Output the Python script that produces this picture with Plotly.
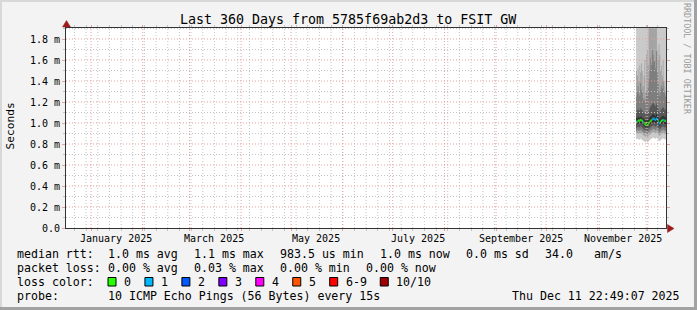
import numpy as np
import pandas as pd
import plotly.graph_objects as go

# ---------------- data ----------------
title_text = "Last 360 Days from 5785f69ab2d3 to FSIT GW"
range_start = "2024-12-16 22:49:07"
range_end = "2025-12-11 22:49:07"

data_start = "2025-11-24 00:00"
step = "12h"

median_ms = [1.010, 1.015, 1.020, 1.025, 1.020, 1.030, 1.025, 1.020, 1.010, 1.000, 0.990, 0.985,
             1.000, 0.980, 0.985, 1.000, 1.010, 1.020, 1.025, 1.035, 1.040, 1.040, 1.035, 1.030,
             1.040, 1.035, 1.020, 1.000, 0.995, 1.010, 1.020, 1.025, 1.030, 1.025, 1.020, 1.020]
loss_count = [0, 1, 0, 0, 0, 0, 0, 0, 1, 0, 0, 0, 0, 0, 0, 0, 0, 0, 0, 1, 1, 1, 1, 1,
              1, 1, 0, 1, 1, 0, 0, 0, 1, 1, 0, 0]

ping1_ms = [0.845, 0.850, 0.848, 0.842, 0.840, 0.852, 0.846, 0.838, 0.830, 0.826, 0.822, 0.818,
            0.828, 0.815, 0.820, 0.832, 0.838, 0.845, 0.850, 0.858, 0.862, 0.858, 0.852, 0.850,
            0.860, 0.852, 0.842, 0.830, 0.826, 0.836, 0.846, 0.850, 0.856, 0.848, 0.842, 0.846]
ping2_ms = [0.895, 0.900, 0.902, 0.898, 0.895, 0.905, 0.900, 0.892, 0.885, 0.880, 0.875, 0.870,
            0.880, 0.865, 0.872, 0.885, 0.890, 0.898, 0.902, 0.910, 0.915, 0.912, 0.905, 0.902,
            0.912, 0.905, 0.895, 0.882, 0.878, 0.888, 0.898, 0.902, 0.908, 0.900, 0.895, 0.898]
ping3_ms = [0.925, 0.930, 0.932, 0.928, 0.926, 0.935, 0.930, 0.922, 0.915, 0.910, 0.905, 0.900,
            0.910, 0.895, 0.902, 0.915, 0.920, 0.928, 0.932, 0.940, 0.945, 0.942, 0.935, 0.932,
            0.942, 0.935, 0.925, 0.912, 0.908, 0.918, 0.928, 0.932, 0.938, 0.930, 0.925, 0.928]
ping4_ms = [0.955, 0.960, 0.965, 0.960, 0.958, 0.968, 0.962, 0.955, 0.948, 0.940, 0.935, 0.930,
            0.940, 0.925, 0.932, 0.945, 0.950, 0.960, 0.965, 0.972, 0.978, 0.975, 0.968, 0.965,
            0.975, 0.968, 0.958, 0.945, 0.940, 0.950, 0.960, 0.965, 0.970, 0.962, 0.958, 0.960]
ping5_ms = [0.985, 0.990, 0.995, 0.995, 0.990, 1.000, 0.995, 0.990, 0.980, 0.970, 0.965, 0.960,
            0.970, 0.955, 0.960, 0.975, 0.980, 0.990, 0.995, 1.005, 1.010, 1.005, 1.000, 1.000,
            1.005, 1.000, 0.990, 0.975, 0.970, 0.980, 0.990, 0.995, 1.000, 0.995, 0.990, 0.990]
ping6_ms = [1.045, 1.050, 1.060, 1.055, 1.050, 1.065, 1.060, 1.050, 1.045, 1.035, 1.030, 1.025,
            1.040, 1.025, 1.030, 1.045, 1.055, 1.065, 1.070, 1.080, 1.085, 1.080, 1.075, 1.070,
            1.085, 1.075, 1.060, 1.040, 1.035, 1.050, 1.060, 1.065, 1.070, 1.065, 1.055, 1.060]
ping7_ms = [1.110, 1.120, 1.135, 1.125, 1.115, 1.140, 1.130, 1.120, 1.105, 1.095, 1.090, 1.080,
            1.100, 1.085, 1.095, 1.120, 1.140, 1.160, 1.170, 1.185, 1.190, 1.180, 1.170, 1.160,
            1.185, 1.165, 1.140, 1.110, 1.100, 1.120, 1.135, 1.140, 1.150, 1.140, 1.125, 1.130]
ping8_ms = [1.250, 1.300, 1.350, 1.280, 1.260, 1.380, 1.320, 1.290, 1.230, 1.210, 1.240, 1.190,
            1.300, 1.260, 1.330, 1.420, 1.500, 1.620, 1.550, 1.700, 1.650, 1.580, 1.600, 1.520,
            1.680, 1.480, 1.380, 1.300, 1.260, 1.320, 1.360, 1.330, 1.400, 1.300, 1.280, 1.250]
ping9_ms = [1.50, 1.45, 1.52, 1.40, 1.55, 1.48, 1.57, 1.50, 1.35, 1.45, 1.60, 1.30,
            1.65, 1.70, 1.55, 1.95, 2.10, 2.30, 2.00, 2.40, 2.20, 2.50, 2.10, 2.30,
            2.05, 1.70, 1.60, 1.75, 1.65, 1.50, 1.55, 1.45, 1.60, 1.35, 1.40, 1.30]
ping10_ms = [2.6, 2.8, 3.0, 2.5, 2.7, 3.1, 2.9, 2.6, 2.4, 2.5, 2.8, 2.3,
             3.0, 3.2, 2.9, 3.5, 3.8, 4.0, 3.6, 4.2, 3.9, 4.5, 3.7, 4.0,
             3.6, 3.0, 2.8, 3.1, 2.9, 2.6, 2.7, 2.5, 2.8, 2.4, 2.5, 2.3]

y_tick_ms = [0.0, 0.2, 0.4, 0.6, 0.8, 1.0, 1.2, 1.4, 1.6, 1.8]
y_tick_text = ["0.0", "0.2 m", "0.4 m", "0.6 m", "0.8 m", "1.0 m", "1.2 m", "1.4 m", "1.6 m", "1.8 m"]
y_minor_ms = [0.1, 0.3, 0.5, 0.7, 0.9, 1.1, 1.3, 1.5, 1.7, 1.9]
y_max_ms = 1.905

month_label_dates = ["2025-01-16", "2025-03-16", "2025-05-16", "2025-07-16", "2025-09-16", "2025-11-16"]
month_labels = ["January 2025", "March 2025", "May 2025", "July 2025", "September 2025", "November 2025"]

loss_labels = ["0", "1", "2", "3", "4", "5", "6-9", "10/10"]
loss_colors = ["#26ff00", "#00b8ff", "#0059ff", "#7e00ff", "#ff00ff", "#ff5500", "#ff0000", "#a10000"]

legend_rows = [
    [(16, "median rtt:"), (107, "1.0 ms avg"), (193, "1.1 ms max"), (278.5, "983.5 us min"),
     (379, "1.0 ms now"), (465, "0.0 ms sd"), (543.5, "34.0"), (593, "am/s")],
    [(16, "packet loss:"), (107, "0.00 % avg"), (193, "0.03 % max"), (278.5, "0.00 % min"),
     (365, "0.00 % now")],
    [(16, "loss color:")],
    [(16, "probe:"), (107, "10 ICMP Echo Pings (56 Bytes) every 15s")],
]
timestamp_text = "Thu Dec 11 22:49:07 2025"

# ---------------- layout geometry ----------------
W, H = 697, 310
ML, MT, PW, PH = 66, 28, 600, 200
MR, MB = W - ML - PW, H - MT - PH
FONT = "DejaVu Sans Mono"


def px_x(px):
    return (px - ML) / PW


def px_y(py):
    return (MT + PH - py) / PH


fig = go.Figure()

n = len(median_ms)
edges = pd.date_range(data_start, periods=n + 1, freq=step)


def stepped(vals):
    v = [x / 1000.0 for x in vals]
    return v + [v[-1]]


pings = [ping1_ms, ping2_ms, ping3_ms, ping4_ms, ping5_ms,
         ping6_ms, ping7_ms, ping8_ms, ping9_ms, ping10_ms]
half = 5
for i in range(1, half + 1):
    g = int(190 / half * (half - i)) + 50
    col = "#%02x%02x%02x" % (g, g, g)
    lo = pings[i - 1]
    hi = pings[10 - i]
    fig.add_trace(go.Scatter(x=edges, y=stepped(lo), mode="lines",
                             line=dict(width=0, shape="hv"), showlegend=False, hoverinfo="skip"))
    fig.add_trace(go.Scatter(x=edges, y=stepped(hi), mode="lines",
                             line=dict(width=0, shape="hv"), fill="tonexty", fillcolor=col,
                             showlegend=False, hoverinfo="skip"))


def loss_class(c):
    if c <= 5:
        return c
    if c < 10:
        return 6
    return 7


for k, col in enumerate(loss_colors):
    xs, ys = [], []
    for i in range(n):
        if loss_class(loss_count[i]) == k:
            xs += [edges[i], edges[i + 1], None]
            ys += [median_ms[i] / 1000.0, median_ms[i] / 1000.0, None]
    if xs:
        fig.add_trace(go.Scatter(x=xs, y=ys, mode="lines", line=dict(width=2.4, color=col),
                                 showlegend=False, hoverinfo="skip"))

# ---------------- grid (drawn above data like rrdtool) ----------------
GRID = "#c4c4c4"
MGRID = "#e8a0a0"
DASH = "1px,2px"
shapes = []
weeks = pd.date_range("2024-12-22", range_end, freq="7D")
months = pd.date_range("2025-01-01", range_end, freq="MS")
for v in y_minor_ms:
    shapes.append(dict(type="line", xref="paper", yref="y", x0=0, x1=1, y0=v / 1000, y1=v / 1000,
                       line=dict(color=GRID, width=1, dash=DASH), layer="above"))
for d in weeks:
    shapes.append(dict(type="line", xref="x", yref="paper", x0=d, x1=d, y0=0, y1=1,
                       line=dict(color=GRID, width=1, dash=DASH), layer="above"))
for v in y_tick_ms[1:]:
    shapes.append(dict(type="line", xref="paper", yref="y", x0=0, x1=1, y0=v / 1000, y1=v / 1000,
                       line=dict(color=MGRID, width=1, dash=DASH), layer="above"))
for d in months:
    shapes.append(dict(type="line", xref="x", yref="paper", x0=d, x1=d, y0=0, y1=1,
                       line=dict(color=MGRID, width=1, dash=DASH), layer="above"))

# frame
shapes.append(dict(type="rect", xref="paper", yref="paper", x0=px_x(0), x1=px_x(W), y0=px_y(0), y1=px_y(2),
                   fillcolor="#d8d8d8", line=dict(width=0), layer="above"))
shapes.append(dict(type="rect", xref="paper", yref="paper", x0=px_x(0), x1=px_x(2), y0=px_y(0), y1=px_y(H),
                   fillcolor="#d8d8d8", line=dict(width=0), layer="above"))
shapes.append(dict(type="rect", xref="paper", yref="paper", x0=px_x(W - 3), x1=px_x(W), y0=px_y(0), y1=px_y(H),
                   fillcolor="#a2a2a2", line=dict(width=0), layer="above"))
shapes.append(dict(type="rect", xref="paper", yref="paper", x0=px_x(0), x1=px_x(W), y0=px_y(H - 3), y1=px_y(H),
                   fillcolor="#a2a2a2", line=dict(width=0), layer="above"))

# arrows
ARROW = "#9b1c1c"
shapes.append(dict(type="line", xref="paper", yref="paper", x0=0, x1=0, y0=1, y1=px_y(25),
                   line=dict(color="#333333", width=1), layer="above"))
shapes.append(dict(type="path", xref="paper", yref="paper",
                   path="M %f,%f L %f,%f L %f,%f Z" % (px_x(62.5), px_y(27), px_x(66.5), px_y(20.5),
                                                      px_x(70.5), px_y(27)),
                   fillcolor=ARROW, line=dict(color=ARROW, width=0.5), layer="above"))
shapes.append(dict(type="path", xref="paper", yref="paper",
                   path="M %f,%f L %f,%f L %f,%f Z" % (px_x(667.5), px_y(224.5), px_x(674), px_y(228.5),
                                                      px_x(667.5), px_y(232.5)),
                   fillcolor=ARROW, line=dict(color=ARROW, width=0.5), layer="above"))

# legend boxes
box_x0 = 108
box_dx = 36.95
for k, col in enumerate(loss_colors):
    bx = box_x0 + k * box_dx + (13.6 if k == 7 else 0)
    shapes.append(dict(type="rect", xref="paper", yref="paper", x0=px_x(bx), x1=px_x(bx + 8),
                       y0=px_y(277.5), y1=px_y(286), fillcolor=col,
                       line=dict(color="#000000", width=1), layer="above"))

# ---------------- annotations ----------------
ann = []
ann.append(dict(text=title_text, xref="paper", yref="paper", x=px_x(348), y=px_y(19.5),
                 xanchor="center", yanchor="middle", showarrow=False,
                 font=dict(family=FONT, size=13.3, color="#000000")))
ann.append(dict(text="Seconds", xref="paper", yref="paper", x=px_x(10), y=px_y(126.5), textangle=-90,
                xanchor="center", yanchor="middle", showarrow=False,
                font=dict(family=FONT, size=11.2, color="#000000")))
ann.append(dict(text="RRDTOOL / TOBI OETIKER", xref="paper", yref="paper", x=px_x(687), y=px_y(59),
                textangle=90, xanchor="center", yanchor="middle", showarrow=False,
                font=dict(family=FONT, size=8.4, color="#999999")))
for d, t in zip(month_label_dates, month_labels):
    ann.append(dict(text=t, xref="x", yref="paper", x=d, y=px_y(238), xanchor="center",
                    yanchor="middle", showarrow=False, font=dict(family=FONT, size=10, color="#000000")))

row_y = [254.3, 268.3, 282.2, 296.2]
for r, items in enumerate(legend_rows):
    for (xpx, txt) in items:
        ann.append(dict(text=txt, xref="paper", yref="paper", x=px_x(xpx - 1), y=px_y(row_y[r]),
                        xanchor="left", yanchor="middle", showarrow=False,
                        font=dict(family=FONT, size=11.6, color="#000000")))
for k, lab in enumerate(loss_labels):
    bx = box_x0 + k * box_dx + (13.6 if k == 7 else 0)
    ann.append(dict(text=lab, xref="paper", yref="paper", x=px_x(bx + 14), y=px_y(row_y[2]),
                    xanchor="left", yanchor="middle", showarrow=False,
                    font=dict(family=FONT, size=11.6, color="#000000")))
ann.append(dict(text=timestamp_text, xref="paper", yref="paper", x=px_x(682), y=px_y(row_y[3]),
                xanchor="right", yanchor="middle", showarrow=False,
                font=dict(family=FONT, size=11.6, color="#000000")))

fig.update_layout(
    width=W, height=H, autosize=False,
    margin=dict(l=ML, r=MR, t=MT, b=MB, pad=0),
    paper_bgcolor="#f3f3f3", plot_bgcolor="#ffffff",
    showlegend=False, hovermode=False,
    shapes=shapes, annotations=ann,
    xaxis=dict(type="date", range=[range_start, range_end], showgrid=False, zeroline=False,
               showline=True, linecolor="#333333", linewidth=1,
               tickmode="array", tickvals=list(months), showticklabels=False,
               ticks="outside", ticklen=2, tickcolor=MGRID, tickwidth=1, mirror="ticks",
               minor=dict(tickmode="array", tickvals=list(weeks), ticks="outside", ticklen=2,
                          tickcolor=GRID, tickwidth=1, showgrid=False)),
    yaxis=dict(range=[0, y_max_ms / 1000], showgrid=False, zeroline=False,
               showline=True, linecolor="#333333", linewidth=1,
               tickmode="array", tickvals=[v / 1000 for v in y_tick_ms], ticktext=y_tick_text,
               ticks="outside", ticklen=3, tickcolor=MGRID, tickwidth=1, mirror="ticks",
               tickfont=dict(family=FONT, size=10, color="#000000"),
               minor=dict(tickmode="array", tickvals=[v / 1000 for v in y_minor_ms], ticks="outside",
                          ticklen=2, tickcolor=GRID, tickwidth=1, showgrid=False)),
)

fig.write_html("out.html")
